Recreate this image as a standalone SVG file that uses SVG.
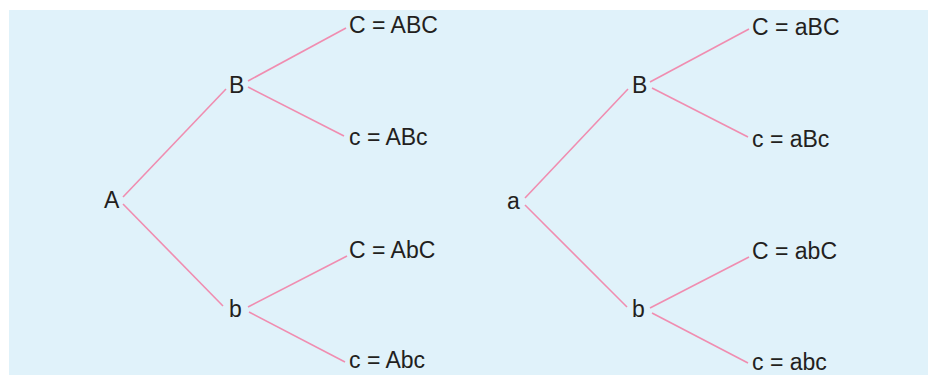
<svg xmlns="http://www.w3.org/2000/svg" width="928" height="375" viewBox="0 0 928 375">
<style>
.t{font-family:"Liberation Sans",Arial,sans-serif;font-size:23px;fill:#231f20}
.c line{stroke:#f08db0;stroke-width:1.6;fill:none}
</style>
<rect x="9" y="10" width="919" height="365" fill="#e0f2fa"/>
<g class="c" id="connectors">
<line x1="123" y1="197" x2="226" y2="89"/>
<line x1="123" y1="204" x2="223" y2="306"/>
<line x1="248" y1="81" x2="346" y2="28"/>
<line x1="248" y1="87" x2="344" y2="136"/>
<line x1="248" y1="307" x2="347" y2="256"/>
<line x1="249" y1="312" x2="345" y2="362"/>
<line x1="525" y1="198" x2="628" y2="89"/>
<line x1="525" y1="205" x2="627" y2="307"/>
<line x1="650" y1="82" x2="749" y2="29"/>
<line x1="652" y1="88" x2="748" y2="137"/>
<line x1="650" y1="308" x2="749" y2="257"/>
<line x1="652" y1="313" x2="748" y2="363"/>
</g>
<g id="nA"><text class="t" x="104" y="208">A</text></g>
<g id="nAB"><text class="t" x="229" y="93">B</text></g>
<g id="nABC"><text class="t" x="349" y="33">C = ABC</text></g>
<g id="nABc"><text class="t" x="349" y="145">c = ABc</text></g>
<g id="nAb"><text class="t" x="229" y="317">b</text></g>
<g id="nAbC"><text class="t" x="349" y="258">C = AbC</text></g>
<g id="nAbc"><text class="t" x="349" y="368">c = Abc</text></g>
<g id="na"><text class="t" x="507" y="209">a</text></g>
<g id="naB"><text class="t" x="632" y="93">B</text></g>
<g id="naBC"><text class="t" x="752" y="35">C = aBC</text></g>
<g id="naBc"><text class="t" x="752" y="147">c = aBc</text></g>
<g id="nab"><text class="t" x="632" y="317">b</text></g>
<g id="nabC"><text class="t" x="752" y="259">C = abC</text></g>
<g id="nabc"><text class="t" x="752" y="370">c = abc</text></g>
</svg>
